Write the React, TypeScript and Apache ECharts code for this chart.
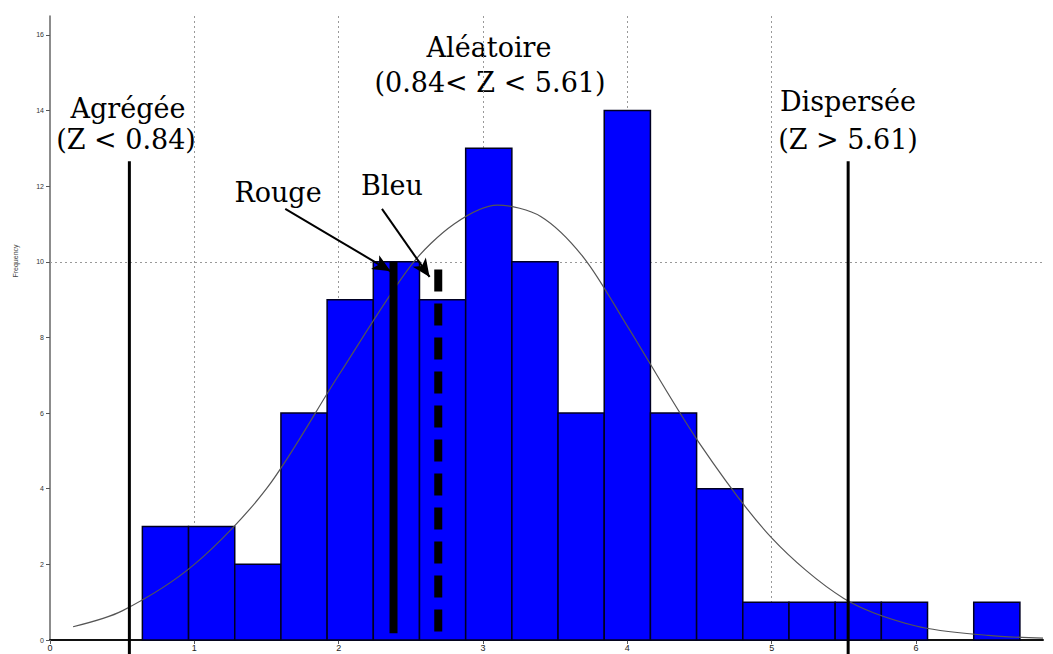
import React, { useEffect, useRef } from "react";
import * as echarts from "echarts";

// Histogram bins (left edges + last right edge) and counts
const binEdges = [0.64, 0.96, 1.28, 1.6, 1.92, 2.24, 2.56, 2.88, 3.2, 3.52, 3.84, 4.16, 4.48, 4.8, 5.12, 5.44, 5.76, 6.08, 6.4, 6.72];
const counts = [3, 3, 2, 6, 9, 10, 9, 13, 10, 6, 14, 6, 4, 1, 1, 1, 1, 0, 1];

// Fitted normal curve
const curveX = [0.16, 0.5, 1.0, 1.5, 2.0, 2.5, 2.8, 3.1, 3.4, 3.7, 4.0, 4.5, 5.0, 5.5, 6.0, 6.5, 6.88];
const curveY = [0.35, 0.77, 2.0, 4.0, 7.0, 9.9, 11.0, 11.5, 11.2, 10.1, 8.3, 5.2, 2.7, 1.1, 0.37, 0.12, 0.05];

// Threshold lines (x, bottom, top)
const aggregeeX = 0.55;
const disperseeX = 5.53;
const thresholdSpan = [-0.4, 12.66];
const rougeLine = [[2.38, 10], [2.38, 0.18]];
const bleuLine = [[2.69, 9.8], [2.69, 0.1]];
const rougeArrow = [[1.63, 11.4], [2.36, 9.75]];
const bleuArrow = [[2.3, 11.4], [2.63, 9.6]];

const xTicks = [0, 1, 2, 3, 4, 5, 6];
const yTicks = [0, 2, 4, 6, 8, 10, 12, 14, 16];

const serif = "'DejaVu Serif', 'Liberation Serif', serif";

export default function App() {
  const ref = useRef<HTMLDivElement>(null);
  useEffect(() => {
    if (!ref.current) return;
    const chart = echarts.init(ref.current, null, { renderer: "svg" });
    const bins = counts.map((c, i) => [binEdges[i], binEdges[i + 1], c]).filter((d) => d[2] > 0);
    const txt = (text: string, x: number, y: number, size = 27) => ({
      type: "text",
      x,
      y,
      style: { text, fontFamily: serif, fontSize: size, fill: "#000", align: "center", verticalAlign: "middle" },
    });
    chart.setOption({
      animation: false,
      backgroundColor: "#fff",
      grid: { left: 50, right: 10, top: 16, bottom: 14 },
      xAxis: {
        type: "value",
        min: 0,
        max: 6.88,
        interval: 1,
        axisLine: { lineStyle: { color: "#111", width: 2 } },
        axisTick: { customValues: xTicks, length: 4, lineStyle: { color: "#555" } },
        axisLabel: { customValues: xTicks, fontSize: 9, color: "#222", margin: 3, fontFamily: "Liberation Sans, sans-serif" },
        splitLine: { show: true, showMinLine: false, showMaxLine: false, lineStyle: { type: [2, 3], color: "#999", width: 1 } },
      },
      yAxis: {
        type: "value",
        min: 0,
        max: 16.5,
        interval: 2,
        axisLine: { show: true, lineStyle: { color: "#666", width: 1.5 } },
        axisTick: { show: true, customValues: yTicks, length: 4, lineStyle: { color: "#555" } },
        axisLabel: { customValues: yTicks, fontSize: 7, color: "#333", margin: 6, fontFamily: "Liberation Sans, sans-serif" },
        splitLine: { show: false },
      },
      series: [
        {
          type: "custom",
          data: bins,
          renderItem: (params: any, api: any) => {
            const p0 = api.coord([api.value(0), api.value(2)]);
            const p1 = api.coord([api.value(1), 0]);
            return {
              type: "rect",
              shape: { x: p0[0], y: p0[1], width: p1[0] - p0[0], height: p1[1] - p0[1] },
              style: { fill: "#0000ff", stroke: "#000022", lineWidth: 1.5 },
            };
          },
          encode: { x: [0, 1], y: 2 },
          z: 2,
        },
        {
          type: "line",
          data: curveX.map((x, i) => [x, curveY[i]]),
          smooth: 0.3,
          symbol: "none",
          lineStyle: { color: "#555", width: 1.2 },
          z: 3,
          markLine: {
            silent: true,
            symbol: "none",
            label: { show: false },
            lineStyle: { type: [2, 3], color: "#999", width: 1 },
            data: [{ yAxis: 10 }],
            z: 1,
          },
        },
        {
          type: "line",
          data: [[aggregeeX, thresholdSpan[0]], [aggregeeX, thresholdSpan[1]]],
          symbol: "none",
          clip: false,
          lineStyle: { color: "#000", width: 3 },
          z: 4,
        },
        {
          type: "line",
          data: [[disperseeX, thresholdSpan[0]], [disperseeX, thresholdSpan[1]]],
          symbol: "none",
          clip: false,
          lineStyle: { color: "#000", width: 3 },
          z: 4,
        },
        {
          type: "line",
          data: rougeLine,
          symbol: "none",
          lineStyle: { color: "#000", width: 8, cap: "butt" },
          z: 5,
        },
        {
          type: "line",
          data: bleuLine,
          symbol: "none",
          lineStyle: { color: "#000", width: 8, type: [22, 12], cap: "butt" },
          z: 5,
          markLine: {
            silent: true,
            symbol: ["none", "arrow"],
            symbolSize: [12, 18],
            label: { show: false },
            lineStyle: { type: "solid", color: "#000", width: 2 },
            data: [
              [{ coord: rougeArrow[0] }, { coord: rougeArrow[1] }],
              [{ coord: bleuArrow[0] }, { coord: bleuArrow[1] }],
            ],
          },
        },
      ],
      graphic: [
        txt("Agrégée", 128, 108),
        txt("(Z < 0.84)", 126, 139),
        txt("Aléatoire", 489, 47),
        txt("(0.84< Z < 5.61)", 490, 82),
        txt("Dispersée", 848, 101),
        txt("(Z > 5.61)", 848, 139),
        txt("Rouge", 278, 192),
        txt("Bleu", 392, 185),
        {
          type: "text",
          x: 15,
          y: 261,
          rotation: Math.PI / 2,
          style: { text: "Frequency", fontSize: 7, fill: "#444", align: "center", verticalAlign: "middle", fontFamily: "Liberation Sans, sans-serif" },
        },
      ],
    });
    return () => chart.dispose();
  }, []);
  return <div ref={ref} style={{ position: "absolute", left: 0, top: 0, width: 1053, height: 654 }} />;
}
